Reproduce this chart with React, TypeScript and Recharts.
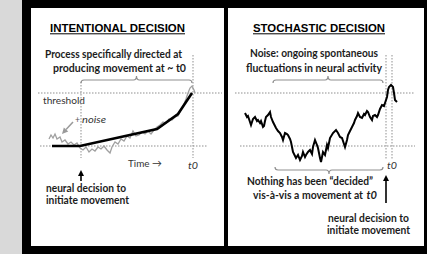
import React from 'react';
import { ComposedChart, Line, XAxis, YAxis, ReferenceLine, Customized } from 'recharts';

// time: ms relative to t0; activity: arbitrary units (baseline 0, threshold 53)
const BASELINE = 0;
const THRESHOLD = 53;
const DECISION_T = -1120;

// intentional panel: smooth build-up toward threshold
const intentionalMean: [number, number][] = [
  [-1410, 0], [-1130, 0], [-360, 17], [-150, 32], [-10, 53],
];

// intentional panel: the same build-up with noise on top
const intentionalNoise: [number, number][] = [
  [-1440, 7], [-1420, 11], [-1400, 8], [-1380, 12], [-1360, 7], [-1330, 9], [-1310, 4],
  [-1280, 6], [-1250, 2], [-1220, 4], [-1190, 1], [-1160, 3], [-1130, -2], [-1100, -4],
  [-1070, -1], [-1040, -6], [-1010, -3], [-980, -5], [-950, -1], [-920, -3], [-890, 0],
  [-860, -4], [-830, -7], [-810, -1], [-780, 4], [-750, 2], [-720, 7], [-690, 5],
  [-660, 10], [-630, 8], [-600, 15], [-570, 10], [-540, 11], [-510, 14], [-480, 12],
  [-450, 15], [-420, 12], [-390, 16], [-360, 19], [-330, 21], [-300, 24], [-270, 23],
  [-240, 27], [-210, 26], [-180, 29], [-150, 30], [-120, 36], [-90, 42], [-70, 47],
  [-50, 53], [-30, 58], [-10, 60], [10, 56], [20, 53],
];

// stochastic panel: spontaneous fluctuation crossing threshold at t0
const stochasticTrace: [number, number][] = [
  [-1440, 33], [-1420, 29], [-1410, 30], [-1390, 24], [-1380, 21], [-1360, 27], [-1340, 29],
  [-1320, 25], [-1310, 26], [-1290, 23], [-1280, 25], [-1260, 19], [-1250, 20], [-1240, 25],
  [-1230, 29], [-1210, 31], [-1190, 34], [-1180, 29], [-1160, 24], [-1140, 20], [-1130, 18],
  [-1110, 15], [-1090, 13], [-1070, 9], [-1060, 6], [-1040, 13], [-1020, 12], [-1010, 11],
  [-990, 7], [-980, 4], [-970, -1], [-960, -6], [-940, -10], [-930, -12], [-910, -9],
  [-890, -14], [-870, -10], [-860, -6], [-840, -11], [-830, -9], [-810, -6], [-790, -4],
  [-770, -8], [-760, -1], [-740, 6], [-720, 1], [-710, -2], [-690, -12], [-680, -16],
  [-660, -6], [-640, -9], [-620, 1], [-610, -2], [-590, 8], [-560, 13], [-530, 16],
  [-510, 13], [-490, 9], [-470, 8], [-450, 2], [-440, -1], [-420, 6], [-410, 11],
  [-390, 15], [-370, 19], [-350, 23], [-340, 26], [-320, 30], [-310, 33], [-290, 29],
  [-270, 28], [-250, 32], [-240, 31], [-220, 35], [-210, 34], [-190, 29], [-170, 26],
  [-160, 30], [-140, 31], [-120, 29], [-110, 31], [-90, 37], [-70, 41], [-50, 40],
  [-40, 43], [-20, 49], [-10, 56], [0, 59], [20, 61], [30, 60], [40, 59], [50, 53],
  [60, 46], [80, 44],
];

const toRows = (pts: [number, number][]) => pts.map(([t, v]) => ({ t, v }));

const H = 238;
const Y_DOMAIN: [number, number] = [-100, 138];
const LEFT_W = 193;
const LEFT_X: [number, number] = [-1620, 310];
const RIGHT_W = 196;
const RIGHT_X: [number, number] = [-1610, 350];

const GRID = '#8f8f8f';
const BODY = 'Lato, "Open Sans", sans-serif';
const TITLE = '"Liberation Sans", Arial, sans-serif';

type Scale = (n: number) => number;

function makeScales(xd: [number, number], w: number): [Scale, Scale] {
  const sx = (t: number) => ((t - xd[0]) / (xd[1] - xd[0])) * w;
  const sy = (v: number) => H - ((v - Y_DOMAIN[0]) / (Y_DOMAIN[1] - Y_DOMAIN[0])) * H;
  return [sx, sy];
}

// horizontal curly brace; dir=1 tip points up, dir=-1 tip points down
function brace(x1: number, x2: number, y: number, dir: number) {
  const m = (x1 + x2) / 2;
  const e = 3 * dir;
  return `M${x1},${y + e} Q${x1},${y} ${x1 + 3},${y} L${m - 3},${y} Q${m},${y} ${m},${y - 4 * dir} Q${m},${y} ${m + 3},${y} L${x2 - 3},${y} Q${x2},${y} ${x2},${y + e}`;
}

function Arrow({ x1, y1, x2, y2, color, w }: { x1: number; y1: number; x2: number; y2: number; color: string; w: number }) {
  const a = Math.atan2(y2 - y1, x2 - x1);
  const L = 6;
  const s = 3;
  const bx = x2 - L * Math.cos(a);
  const by = y2 - L * Math.sin(a);
  const px = -Math.sin(a) * s;
  const py = Math.cos(a) * s;
  return (
    <g>
      <line x1={x1} y1={y1} x2={bx} y2={by} stroke={color} strokeWidth={w} />
      <polygon points={`${x2},${y2} ${bx + px},${by + py} ${bx - px},${by - py}`} fill={color} />
    </g>
  );
}

function T(props: any) {
  const { bold, italic, len, size = 11, fam = BODY, fill = '#1c1c1c', children, ...rest } = props;
  return (
    <text
      {...rest}
      fontFamily={fam}
      fontSize={size}
      fontWeight={bold ? 700 : 400}
      fontStyle={italic ? 'italic' : 'normal'}
      fill={fill}
      textLength={len}
      lengthAdjust="spacingAndGlyphs"
    >
      {children}
    </text>
  );
}

function IntentionalOverlay() {
  const [sx, sy] = makeScales(LEFT_X, LEFT_W);
  return (
    <g>
      <T x={19} y={24} len={135} size={11.5} fam={TITLE} bold fill="#000">INTENTIONAL DECISION</T>
      <line x1={19} x2={154} y1={25.8} y2={25.8} stroke="#000" strokeWidth={1} />
      <T x={14} y={49.5} len={137} bold>Process specifically directed at</T>
      <T x={22} y={64.3} len={133} bold>producing movement at ~ t0</T>
      <path d={brace(sx(DECISION_T), sx(-10), sy(66), 1)} fill="none" stroke={GRID} strokeWidth={1.2} />
      <T x={12} y={96} len={42} size={10} fill="#333">threshold</T>
      <T x={44} y={115} len={5} size={10} fill="#555">+</T>
      <T x={51} y={115} len={24} size={10} italic fill="#333">noise</T>
      <Arrow x1={sx(-1200)} y1={sy(24)} x2={sx(-1310)} y2={sy(12)} color="#9a9a9a" w={1.5} />
      <T x={97} y={158.7} len={34} size={10} fill="#333">Time →</T>
      <T x={157} y={161} len={10} size={10} italic fill="#333">t0</T>
      <Arrow x1={sx(DECISION_T)} y1={sy(-35)} x2={sx(DECISION_T)} y2={sy(-24)} color="#000" w={1.6} />
      <T x={15} y={183.7} len={80} bold>neural decision to</T>
      <T x={15} y={196} len={83} bold>initiate movement</T>
    </g>
  );
}

function StochasticOverlay() {
  const [sx, sy] = makeScales(RIGHT_X, RIGHT_W);
  return (
    <g>
      <T x={25} y={24} len={132} size={11.5} fam={TITLE} bold fill="#000">STOCHASTIC DECISION</T>
      <line x1={25} x2={157} y1={25.8} y2={25.8} stroke="#000" strokeWidth={1} />
      <T x={22} y={49.3} len={128} bold>Noise: ongoing spontaneous</T>
      <T x={18} y={64.3} len={136} bold>fluctuations in neural activity</T>
      <path d={brace(sx(-1160), sx(-60), sy(66), 1)} fill="none" stroke={GRID} strokeWidth={1.2} />
      <path d={brace(sx(-1140), sx(-60), sy(-24), -1)} fill="none" stroke={GRID} strokeWidth={1.2} />
      <T x={159} y={161} len={10} size={10} italic fill="#333">t0</T>
      <Arrow x1={sx(-30)} y1={sy(-57)} x2={sx(-30)} y2={sy(-29)} color="#000" w={1.6} />
      <T x={19} y={176.8} len={126} size={10.5} bold>Nothing has been “decided”</T>
      <T x={25} y={190.6} len={110} size={10.5} bold>vis-à-vis a movement at</T>
      <T x={138.5} y={190.6} len={10.5} size={10.5} bold italic>t0</T>
      <T x={100} y={213.7} len={81} bold>neural decision to</T>
      <T x={99} y={226.3} len={83} bold>initiate movement</T>
    </g>
  );
}

const dotted = { stroke: GRID, strokeWidth: 1, strokeDasharray: '1.5 1.5' };

function IntentionalPanel() {
  return (
    <ComposedChart width={LEFT_W} height={H} margin={{ top: 0, right: 0, bottom: 0, left: 0 }}>
      <XAxis type="number" dataKey="t" domain={LEFT_X} hide allowDataOverflow />
      <YAxis type="number" dataKey="v" domain={Y_DOMAIN} hide allowDataOverflow />
      <ReferenceLine segment={[{ x: -1550, y: THRESHOLD }, { x: 290, y: THRESHOLD }]} {...dotted} />
      <ReferenceLine segment={[{ x: -1530, y: BASELINE }, { x: 150, y: BASELINE }]} {...dotted} />
      <ReferenceLine segment={[{ x: DECISION_T, y: 64 }, { x: DECISION_T, y: -12 }]} {...dotted} />
      <ReferenceLine segment={[{ x: 0, y: 91 }, { x: 0, y: -12 }]} {...dotted} />
      <Line data={toRows(intentionalNoise)} dataKey="v" type="linear" stroke="#a0a0a0" strokeWidth={1.3} dot={false} isAnimationActive={false} />
      <Line data={toRows(intentionalMean)} dataKey="v" type="linear" stroke="#000" strokeWidth={2.6} dot={false} isAnimationActive={false} />
      <Customized component={<IntentionalOverlay />} />
    </ComposedChart>
  );
}

function StochasticPanel() {
  return (
    <ComposedChart width={RIGHT_W} height={H} margin={{ top: 0, right: 0, bottom: 0, left: 0 }}>
      <XAxis type="number" dataKey="t" domain={RIGHT_X} hide allowDataOverflow />
      <YAxis type="number" dataKey="v" domain={Y_DOMAIN} hide allowDataOverflow />
      <ReferenceLine segment={[{ x: -1540, y: THRESHOLD }, { x: 260, y: THRESHOLD }]} {...dotted} />
      <ReferenceLine segment={[{ x: -1490, y: BASELINE }, { x: 260, y: BASELINE }]} {...dotted} />
      <ReferenceLine segment={[{ x: -30, y: 91 }, { x: -30, y: -14 }]} {...dotted} />
      <ReferenceLine segment={[{ x: 30, y: 91 }, { x: 30, y: -14 }]} {...dotted} />
      <Line data={toRows(stochasticTrace)} dataKey="v" type="linear" stroke="#000" strokeWidth={2} dot={false} isAnimationActive={false} />
      <Customized component={<StochasticOverlay />} />
    </ComposedChart>
  );
}

export default function App() {
  return (
    <div style={{ position: 'absolute', left: 0, top: 0, width: 427, height: 254, background: '#d9d9d9' }}>
      <div style={{ position: 'absolute', left: 22, top: 0, width: 405, height: 254, background: '#000' }} />
      <div style={{ position: 'absolute', left: 31, top: 8, width: LEFT_W, height: H, background: '#fff' }}>
        <IntentionalPanel />
      </div>
      <div style={{ position: 'absolute', left: 228, top: 8, width: RIGHT_W, height: H, background: '#fff' }}>
        <StochasticPanel />
      </div>
    </div>
  );
}
